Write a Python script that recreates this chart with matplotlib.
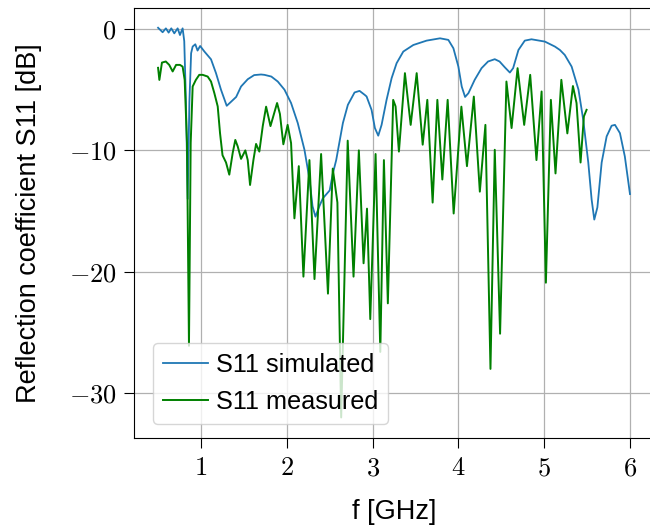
import numpy as np
import matplotlib
matplotlib.use('Agg')
import matplotlib.pyplot as plt
from matplotlib.ticker import FuncFormatter

# simulated S11
sim_f = [0.50, 0.553, 0.591, 0.623, 0.654, 0.689, 0.728, 0.755, 0.786, 0.805, 0.825, 0.845, 0.865, 0.885,
         0.903, 0.934, 0.96, 0.99, 1.04, 1.117, 1.175, 1.233, 1.30, 1.35, 1.41, 1.467, 1.545, 1.62, 1.70,
         1.74, 1.82, 1.895, 1.973, 2.05, 2.128, 2.206, 2.265, 2.30, 2.334, 2.38, 2.42, 2.50, 2.537, 2.576,
         2.654, 2.712, 2.79, 2.848, 2.907, 2.93, 2.988, 3.027, 3.066, 3.105, 3.163, 3.222, 3.28, 3.358,
         3.475, 3.63, 3.786, 3.883, 3.942, 4.0, 4.039, 4.078, 4.117, 4.19, 4.27, 4.346, 4.424, 4.48,
         4.54, 4.6, 4.638, 4.70, 4.774, 4.852, 5.008, 5.125, 5.183, 5.24, 5.32, 5.40, 5.455, 5.514,
         5.553, 5.584, 5.62, 5.67, 5.728, 5.786, 5.825, 5.883, 5.94, 6.0]
sim_s11 = [0.1, -0.27, 0.05, -0.3, 0.05, -0.36, 0.05, -0.5, 0.05, -1.0, -6.0, -14.0, -6.0, -2.0,
           -1.45, -1.26, -1.78, -1.4, -1.86, -2.5, -3.64, -5.0, -6.33, -6.0, -5.6, -4.74, -4.14, -3.8, -3.75,
           -3.78, -3.92, -4.33, -5.0, -6.1, -7.75, -9.95, -12.4, -14.6, -15.46, -14.6, -13.95, -13.3, -11.9, -10.8,
           -7.75, -6.25, -5.23, -5.1, -5.42, -5.56, -6.66, -8.16, -8.79, -7.9, -5.84, -4.05, -2.82, -1.86,
           -1.32, -0.96, -0.77, -0.9, -1.59, -3.1, -4.74, -5.6, -5.29, -4.19, -3.23, -2.68, -2.49, -2.68,
           -3.15, -3.59, -3.23, -1.73, -0.96, -0.85, -1.04, -1.45, -1.73, -2.14, -3.1, -5.0, -7.48, -11.0,
           -14.05, -15.7, -14.7, -11.0, -8.85, -7.97, -7.9, -8.58, -10.5, -13.6]

# measured S11
meas_f = [0.50, 0.515, 0.545, 0.59, 0.63, 0.67, 0.71, 0.755, 0.786, 0.81, 0.837, 0.86, 0.88, 0.903,
          0.94, 0.98, 1.02, 1.078, 1.117, 1.156, 1.195, 1.222, 1.251, 1.292, 1.33, 1.37, 1.40, 1.428,
          1.467, 1.517, 1.545, 1.572, 1.611, 1.642, 1.68, 1.72, 1.759, 1.81, 1.887, 1.92, 1.96, 2.01,
          2.05, 2.089, 2.14, 2.194, 2.264, 2.323, 2.40, 2.48, 2.536, 2.59, 2.634, 2.71, 2.778, 2.84,
          2.895, 2.935, 2.973, 3.035, 3.09, 3.132, 3.178, 3.24, 3.268, 3.307, 3.377, 3.444, 3.514,
          3.584, 3.638, 3.70, 3.755, 3.813, 3.875, 3.945, 4.035, 4.10, 4.18, 4.25, 4.315, 4.374,
          4.424, 4.486, 4.56, 4.62, 4.69, 4.767, 4.837, 4.91, 4.97, 5.02, 5.078, 5.132, 5.2, 5.27,
          5.335, 5.377, 5.424, 5.463, 5.494]
meas_s11 = [-3.2, -4.2, -2.77, -2.68, -2.96, -3.5, -2.96, -2.96, -3.1, -4.2, -9.4, -26.1, -9.4, -4.74,
            -4.2, -3.78, -3.78, -3.92, -4.33, -5.29, -6.38, -8.58, -10.4, -11.0, -12.0, -10.2, -9.14, -9.67,
            -10.7, -10.0, -10.8, -12.85, -10.8, -9.47, -10.1, -8.0, -6.4, -8.0, -6.1, -7.0, -9.5, -7.9,
            -9.4, -15.6, -11.3, -20.4, -10.8, -20.6, -10.3, -21.8, -11.5, -14.3, -32.0, -9.2, -20.4, -10.0,
            -19.3, -14.8, -23.9, -10.3, -26.6, -10.8, -22.6, -5.84, -6.38, -10.1, -3.64, -7.9, -3.64,
            -9.53, -5.84, -14.3, -5.84, -12.4, -5.84, -15.2, -6.4, -11.3, -5.57, -13.4, -7.9, -28.0,
            -9.95, -25.1, -4.33, -8.16, -3.23, -7.9, -3.78, -10.8, -5.15, -20.9, -5.84, -11.9, -4.19, -8.6,
            -4.7, -6.1, -11.0, -7.2, -6.66]

plt.rcParams['font.family'] = ['Liberation Sans', 'DejaVu Sans']
plt.rcParams['mathtext.fontset'] = 'cm'
plt.rcParams['font.size'] = 18

fig = plt.figure(figsize=(6.5, 5.27), dpi=100)
ax = fig.add_axes([0.2069, 0.1689, 0.7986, 0.816])

ax.plot(sim_f, sim_s11, color='#1f77b4', lw=1.3, label='S11 simulated')
ax.plot(meas_f, meas_s11, color='green', lw=1.4, label='S11 measured')

ax.set_xlim(0.225, 6.275)
ax.set_ylim(-33.69, 1.73)
ax.set_xticks([1, 2, 3, 4, 5, 6])
ax.set_yticks([0, -10, -20, -30])
ax.xaxis.set_major_formatter(FuncFormatter(lambda v, p: '$%g$' % v))
ax.yaxis.set_major_formatter(FuncFormatter(lambda v, p: '$%g$' % v))
ax.tick_params(labelsize=19, length=7, pad=6)
ax.grid(True, color='#b0b0b0', lw=0.9)

ax.set_xlabel('f [GHz]', fontsize=19.5, labelpad=14)
ax.set_ylabel('Reflection coefficient S11 [dB]', fontsize=19.5, labelpad=19)
ax.legend(loc='lower left', bbox_to_anchor=(0.008, 0.0), borderaxespad=0.55,
          fontsize=18.2, handlelength=1.8, handletextpad=0.3)

fig.savefig('out.png', dpi=100)
